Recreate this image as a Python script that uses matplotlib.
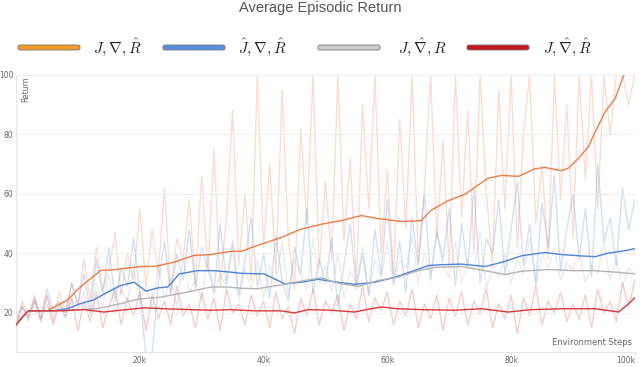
import matplotlib.pyplot as plt
import numpy as np
from matplotlib.patches import FancyBboxPatch

# Daten (x in tausend Schritten)
steps_raw = np.arange(0, 101)

orange_raw = [16, 24, 19, 26, 18, 23, 17, 27, 20, 30, 22,
              38, 24, 42, 28, 35, 47, 26, 40, 31, 55,
              29, 48, 33, 62, 27, 45, 38, 58, 30, 66,
              34, 75, 29, 52, 88, 36, 60, 31, 100, 42,
              70, 33, 95, 45, 28, 82, 50, 100, 35, 64,
              38, 100, 44, 72, 30, 90, 55, 100, 40, 68,
              33, 85, 48, 100, 37, 62, 100, 45, 78, 35,
              100, 52, 88, 40, 100, 60, 36, 95, 55, 100,
              42, 80, 100, 50, 70, 38, 100, 58, 90, 45,
              100, 65, 100, 55, 100, 80, 100, 100, 90, 100]
blue_raw = [17, 22, 19, 25, 18, 28, 21, 24, 19, 30, 23,
            33, 20, 38, 26, 42, 24, 35, 29, 45, 27,
            5, 6, 30, 44, 26, 40, 31, 48, 28, 42,
            35, 27, 50, 30, 44, 26, 38, 52, 29, 40,
            25, 46, 31, 24, 42, 33, 55, 27, 38, 30,
            45, 22, 36, 50, 28, 40, 26, 48, 33, 58,
            30, 44, 27, 52, 36, 60, 31, 47, 38, 55,
            29, 50, 35, 62, 30, 45, 40, 58, 33, 48,
            64, 36, 50, 30, 57, 42, 66, 34, 48, 60,
            38, 55, 32, 70, 44, 52, 36, 62, 48, 58]
gray_raw = [18, 23, 17, 24, 20, 26, 19, 22, 18, 25, 21,
            27, 19, 30, 22, 33, 20, 28, 24, 35, 23,
            30, 21, 36, 25, 32, 22, 38, 27, 31, 24,
            40, 26, 33, 29, 42, 24, 35, 28, 38, 25,
            36, 30, 44, 26, 38, 33, 28, 45, 30, 36,
            27, 40, 25, 34, 30, 42, 26, 38, 32, 44,
            29, 38, 35, 46, 30, 40, 33, 48, 36, 32,
            44, 30, 38, 34, 47, 28, 36, 32, 40, 30,
            38, 33, 45, 29, 40, 35, 42, 31, 37, 34,
            41, 30, 36, 33, 44, 31, 38, 29, 35, 33]
red_raw = [15, 22, 18, 24, 17, 26, 16, 23, 19, 25, 14,
           24, 17, 27, 15, 22, 28, 16, 25, 19, 27,
           14, 26, 18, 24, 16, 29, 19, 23, 15, 27,
           18, 25, 14, 28, 20, 23, 16, 26, 19, 24,
           15, 27, 18, 22, 13, 25, 19, 28, 16, 24,
           20, 26, 14, 23, 18, 29, 17, 25, 21, 27,
           16, 24, 19, 28, 15, 23, 18, 26, 14, 25,
           19, 27, 16, 24, 20, 28, 15, 23, 18, 26,
           13, 25, 19, 29, 16, 24, 20, 27, 17, 23,
           18, 26, 15, 28, 20, 24, 17, 30, 22, 31]

# geglaettete Kurven
orange_x = [0, 1, 2, 5, 8.3, 10.4, 13.7, 15.3, 20.2, 22.3, 25.5, 28.7, 31.5, 34.7, 36.4, 38.5,
            42.8, 46, 49.3, 52.5, 55.8, 58.5, 62.3, 65.5, 67, 69.8, 72.5, 76.3, 78.5, 81.2,
            83.8, 85.4, 88.2, 89.3, 90.9, 92.5, 93.6, 95.2, 96.8, 98.4, 100]
orange_y = [16, 18.5, 20.7, 20.7, 24.3, 28.7, 34.3, 34.4, 35.6, 35.6, 37, 39.3, 39.6, 40.7, 40.7, 42.3,
            45.3, 48.1, 49.8, 51, 52.7, 51.7, 50.7, 51, 54.4, 57.7, 59.8, 65.3, 66.2, 65.9,
            68.4, 68.9, 67.8, 68.7, 72, 75.9, 80.9, 87.6, 92, 101, 104]
blue_x = [0, 1, 2, 6, 8.3, 10.4, 12.6, 14.8, 16.9, 19.1, 21, 22.9, 24.5, 26.4, 29.3, 32, 34.7,
          36.4, 40.1, 43.4, 46.1, 48.8, 52, 54.7, 58, 61.2, 63.9, 66.6, 68.7, 72, 75.8, 78.5,
          81.7, 85.5, 88.2, 90.9, 93.6, 95.7, 98.4, 100]
blue_y = [16, 18.5, 20.7, 20.7, 21.4, 23.1, 24.4, 27, 29.2, 30.3, 27.3, 28.4, 28.7, 33.1, 34.2, 34.2, 33.7,
          33.3, 33.1, 29.8, 30.3, 31.3, 30.3, 29.6, 30.3, 32, 33.9, 35.9, 36.2, 36.4, 35.6, 37,
          39.2, 40.3, 39.6, 39.2, 38.9, 40.1, 40.9, 41.6]
gray_x = [0, 1, 2, 6, 13.1, 16.9, 19.6, 23.4, 27.7, 31.5, 34.2, 36.4, 39, 42.8, 46.1, 49.3, 52,
          55.3, 58.5, 61.7, 65, 67.7, 72, 75.8, 79, 81.7, 86, 89.8, 93.6, 96.8, 100]
gray_y = [16, 18.5, 20.7, 20.7, 21.4, 23.1, 24.6, 25.3, 27, 28.7, 28.7, 28.3, 28.1, 29.4, 30.7, 31.8, 30,
          28.9, 30.9, 32, 34.2, 35.3, 35.6, 34.2, 32.9, 34, 34.6, 34.2, 34.2, 33.7, 33.1]
red_x = [0, 1, 2, 7.2, 11, 14.2, 16.9, 20.7, 23.9, 28.3, 31.5, 34.7, 38.5, 42.8, 45, 47.2, 50.9,
         54.7, 56.9, 59, 61.7, 65.5, 70.9, 75.2, 79.5, 83.3, 88.2, 93.6, 97.4, 99, 100]
red_y = [16, 18.5, 20.7, 20.7, 21.1, 20.3, 20.9, 21.7, 21.4, 21.1, 20.9, 21.1, 20.7, 20.7, 20, 21.1, 20.9,
         20.3, 21.2, 22, 21.4, 21.1, 20.9, 21.4, 20.3, 21.1, 21.4, 21.4, 20.3, 23.1, 25.1]

labels = [r"$J, \nabla, \hat{R}$", r"$\hat{J}, \nabla, \hat{R}$",
          r"$J, \hat{\nabla}, R$", r"$J, \hat{\nabla}, \hat{R}$"]
line_farben = ["#ef7b45", "#4f82d9", "#b4b4b4", "#d8383c"]
legend_farben = ["#f59b26", "#5a8fe4", "#cdcdcd", "#c5161e"]

plt.rcParams['mathtext.fontset'] = 'cm'

fig = plt.figure(figsize=(6.4, 3.67), dpi=100)
ax = fig.add_axes([0.025, 0.042, 0.967, 0.754])

raws = [orange_raw, blue_raw, gray_raw, red_raw]
smooth = [(orange_x, orange_y), (blue_x, blue_y), (gray_x, gray_y), (red_x, red_y)]

for raw, c in zip(raws, line_farben):
    ax.plot(steps_raw, raw, color=c, alpha=0.25, lw=1.0, zorder=1)
for (sx, sy), c in zip(smooth, line_farben):
    ax.plot(sx, sy, color=c, lw=1.0, zorder=3)

ax.set_xlim(0, 100)
ax.set_ylim(7, 100)
ax.set_yticks([20, 40, 60, 80, 100])
ax.set_yticklabels(["20", "40", "60", "80", "100"])
ax.set_xticks([20, 40, 60, 80, 100])
ax.set_xticklabels(["20k", "40k", "60k", "80k", "100k"])
ax.tick_params(axis="both", labelsize=5.5, labelcolor="#666666", color="#e6e6e6",
               length=2, pad=1)
ax.tick_params(axis="y", length=0, pad=2)
ax.get_xticklabels()[-1].set_horizontalalignment("right")
ax.grid(axis="y", color="#eeeeee", lw=0.8, zorder=0)
for s in ["top", "right"]:
    ax.spines[s].set_visible(False)
ax.spines["left"].set_color("#e6e6e6")
ax.spines["bottom"].set_color("#e6e6e6")

ax.text(0.008, 0.995, "Return", rotation=90, transform=ax.transAxes, ha="left", va="top",
        fontsize=5.5, color="#666666")
ax.text(0.995, 0.015, "Environment Steps", transform=ax.transAxes, ha="right", va="bottom",
        fontsize=6, color="#666666")

fig.text(0.5, 0.997, "Average Episodic Return", ha="center", va="top",
         fontsize=10.5, color="#555555", family="Liberation Sans")

# Legende manuell
patch_x = [18, 163, 318, 467]
text_x = [93, 238, 398, 543]
for px, tx, c, lab in zip(patch_x, text_x, legend_farben, labels):
    p = FancyBboxPatch((px / 640, 1 - 50 / 367), 62 / 640, 5 / 367,
                       boxstyle="round,pad=0,rounding_size=0.004",
                       transform=fig.transFigure, facecolor=c,
                       edgecolor="#777777", lw=0.6)
    fig.patches.append(p)
    fig.text(tx / 640, 1 - 47.5 / 367, lab, ha="left", va="center", fontsize=11, color="#222222")

fig.savefig("out.png", dpi=100)
